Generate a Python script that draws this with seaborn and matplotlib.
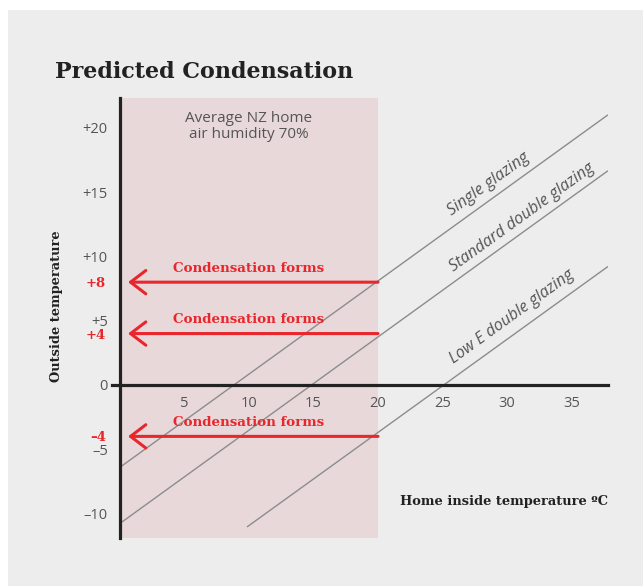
import matplotlib
matplotlib.use("Agg")
import matplotlib.pyplot as plt
import seaborn as sns
import pandas as pd
from matplotlib.patches import Rectangle

# ---- data ----
series = ["Single glazing", "Standard double glazing", "Low E double glazing"]
x_start = [0.0, 0.0, 9.87]
y_start = [-6.4, -10.77, -11.03]
x_end = [37.8, 37.8, 37.8]
y_end = [21.0, 16.65, 9.2]

condensation_levels = [8, 4, -4]
condensation_labels = ["+8", "+4", "\u20134"]
condensation_text = "Condensation forms"
humidity_zone = [0, 20]
humidity_text = "Average NZ home\nair humidity 70%"
y_ticks = [-10, -5, 0, 5, 10, 15, 20]
y_tick_labels = ["\u201310", "\u20135", "0", "+5", "+10", "+15", "+20"]
x_ticks = [5, 10, 15, 20, 25, 30, 35]
x_tick_labels = ["5", "10", "15", "20", "25", "30", "35"]

rows = []
for s, xs, ys, xe, ye in zip(series, x_start, y_start, x_end, y_end):
    rows.append({"series": s, "x": xs, "y": ys})
    rows.append({"series": s, "x": xe, "y": ye})
df = pd.DataFrame(rows)

# ---- style ----
sns.set_style("white")
plt.rcParams["font.family"] = ["Open Sans", "DejaVu Sans"]

BG = "#ededed"
PINK = "#e8d8da"
RED = "#e8262c"
GREY_TXT = "#555555"
LINE_GREY = "#8c8c8c"
DARK = "#222222"

fig = plt.figure(figsize=(6.43, 5.86), dpi=100)
fig.patch.set_facecolor("white")
fig.patches.append(Rectangle((8 / 643, 0), 1, 1 - 10 / 586, transform=fig.transFigure,
                             facecolor=BG, edgecolor="none", zorder=-10))

ax = fig.add_axes([112.3 / 643, (586 - 537.9) / 586, 495.3 / 643, 439.5 / 586])
ax.set_facecolor("none")
ax.set_xlim(-0.6, 37.8)
ax.set_ylim(-11.9, 22.3)

ax.axvspan(humidity_zone[0], humidity_zone[1], color=PINK, zorder=0, lw=0)

sns.lineplot(data=df, x="x", y="y", hue="series", units="series", estimator=None,
             palette={s: LINE_GREY for s in series}, legend=False, lw=1.0, ax=ax, zorder=2)

# line labels
label_pos = [(28.6, 15.6), (31.2, 13.0), (30.4, 5.3)]
for s, (lx, ly) in zip(series, label_pos):
    ax.text(lx, ly, s, rotation=35.8, rotation_mode="anchor", ha="center", va="center",
            fontsize=11.6, style="italic", color=GREY_TXT, zorder=3)

# condensation arrows
for lvl in condensation_levels:
    ax.annotate("", xy=(0.62, lvl), xytext=(humidity_zone[1], lvl),
                arrowprops=dict(arrowstyle="->,head_length=0.55,head_width=0.42",
                                color=RED, lw=2.2, mutation_scale=20,
                                shrinkA=0, shrinkB=0), zorder=4)
    ax.text(10, lvl + 1.1, condensation_text, ha="center", va="center", fontsize=9.6,
            fontweight="bold", color=RED, family=["DejaVu Serif"], zorder=4)

ax.text(10, 20.1, humidity_text, ha="center", va="center", fontsize=11,
        color=GREY_TXT, linespacing=1.05)

# spines
for side in ["top", "right"]:
    ax.spines[side].set_visible(False)
ax.spines["left"].set_position(("data", 0))
ax.spines["bottom"].set_position(("data", 0))
for side in ["left", "bottom"]:
    ax.spines[side].set_color(DARK)
    ax.spines[side].set_linewidth(2.3)
    ax.spines[side].set_zorder(5)

ax.set_xticks(x_ticks)
ax.set_xticklabels(x_tick_labels)
ax.set_yticks(y_ticks)
ax.set_yticklabels(y_tick_labels)
ax.tick_params(axis="both", which="major", direction="inout", length=7.5, width=1.3,
               colors=DARK, labelcolor=GREY_TXT, labelsize=10.5)
ax.tick_params(axis="x", which="major", pad=4.5)
ax.tick_params(axis="y", which="major", pad=5)

ax.set_yticks(condensation_levels, minor=True)
ax.set_yticklabels(condensation_labels, minor=True)
ax.tick_params(axis="y", which="minor", direction="out", length=5.0, width=2.2,
               colors=RED, labelcolor=RED, labelsize=9.5, pad=5)
for t in ax.get_yticklabels(minor=True):
    t.set_fontweight("bold")
    t.set_family(["DejaVu Serif"])

ax.set_xlabel("Home inside temperature \u00baC", fontsize=9.4, fontweight="bold",
              family=["DejaVu Serif"], color=DARK, ha="right", va="center")
ax.xaxis.set_label_coords(1.0, 0.082)
ax.set_ylabel("Outside temperature", fontsize=9.4, fontweight="bold",
              family=["DejaVu Serif"], color=DARK, va="center")
ax.yaxis.set_label_coords(-0.112, 0.528)

fig.text(55 / 643, 1 - 72 / 586, "Predicted Condensation", ha="left", va="center",
         fontsize=16, fontweight="bold", family=["DejaVu Serif"], color=DARK)

fig.savefig("out.png", dpi=100)
